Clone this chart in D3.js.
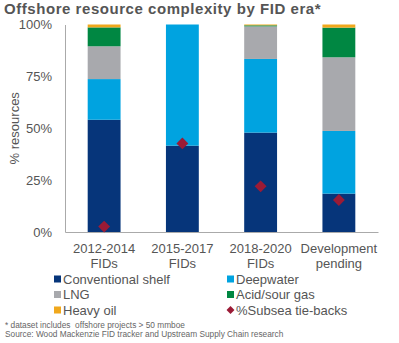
<!DOCTYPE html>
<html>
<head>
<meta charset="utf-8">
<script src="https://cdn.jsdelivr.net/npm/d3@7"></script>
<style>
  body { margin: 0; background: #fff; }
  svg { display: block; font-family: "Liberation Sans", Arial, sans-serif; }
</style>
</head>
<body>
<div id="chart"></div>
<script>
// FID eras and resource mix (% of resources)
const eras = [["2012-2014", "FIDs"], ["2015-2017", "FIDs"], ["2018-2020", "FIDs"], ["Development", "pending"]]
const conventionalShelf = [54.1, 41.6, 47.9, 18.5]
const deepwater = [19.6, 58.4, 35.5, 30.2]
const lng = [15.8, 0, 15.7, 35.5]
const acidSourGas = [9.1, 0, 0.5, 14.3]
const heavyOil = [1.4, 0, 0.4, 1.5]
const subseaTiebacks = [2.6, 42.7, 22.0, 15.4]
const yTicks = [0, 25, 50, 75, 100]

const seriesNames = ['Conventional shelf', 'Deepwater', 'LNG', 'Acid/sour gas', 'Heavy oil']
const seriesValues = [conventionalShelf, deepwater, lng, acidSourGas, heavyOil]
const colors = ['#06357a', '#00a3e0', '#a8a9ad', '#008742', '#f0a81c']
const markerColor = '#9b1b36'
const textColor = '#555'

const w = 399, h = 343
const margin = { top: 24.5, left: 65, right: 21, bottom: 111 }

const svg = d3.select('#chart').append('svg')
  .attr('width', w)
  .attr('height', h)

const rows = eras.map((e, i) => {
  const r = { era: e.join(' ') }
  seriesNames.forEach((s, j) => { r[s] = seriesValues[j][i] })
  return r
})

const x = d3.scaleBand()
  .domain(rows.map(d => d.era))
  .range([margin.left, w - margin.right])
  .paddingInner(0.58)
  .paddingOuter(0.29)

const y = d3.scaleLinear()
  .domain([0, 100])
  .range([h - margin.bottom, margin.top])

const stacked = d3.stack().keys(seriesNames)(rows)

svg.append('text')
  .attr('x', 4)
  .attr('y', 14)
  .attr('fill', textColor)
  .style('font-size', '15px')
  .style('font-weight', 'bold')
  .style('letter-spacing', '0.55px')
  .text('Offshore resource complexity by FID era*')

// stacked bars
svg.append('g')
  .selectAll('g')
  .data(stacked)
  .join('g')
    .attr('fill', (d, i) => colors[i])
  .selectAll('rect')
  .data(d => d)
  .join('rect')
    .attr('x', d => x(d.data.era))
    .attr('y', d => y(d[1]))
    .attr('width', x.bandwidth())
    .attr('height', d => y(d[0]) - y(d[1]))

// axes
const yAxis = svg.append('g')
  .attr('transform', `translate(${margin.left},0)`)
  .call(d3.axisLeft(y).tickValues(yTicks).tickSize(0).tickPadding(13).tickFormat(d => d + '%'))
yAxis.select('.domain').attr('stroke', '#aaa')
yAxis.selectAll('text').attr('fill', textColor).style('font-size', '13px')

const xAxis = svg.append('g')
  .attr('transform', `translate(0,${y(0)})`)
  .call(d3.axisBottom(x).tickSize(0).tickFormat(''))
xAxis.select('.domain').attr('stroke', '#aaa')

svg.append('g')
  .selectAll('text')
  .data(eras)
  .join('text')
    .attr('x', (d, i) => x(rows[i].era) + x.bandwidth() / 2)
    .attr('y', 253)
    .attr('text-anchor', 'middle')
    .attr('fill', textColor)
    .style('font-size', '13px')
  .selectAll('tspan')
  .data(d => d)
  .join('tspan')
    .attr('x', function () { return this.parentNode.getAttribute('x') })
    .attr('dy', (d, i) => i ? 14.5 : 0)
    .text(d => d)

svg.append('text')
  .attr('transform', `translate(19,${y(50)}) rotate(-90)`)
  .attr('text-anchor', 'middle')
  .attr('fill', textColor)
  .style('font-size', '13px')
  .text('% resources')

// subsea tie-back markers
svg.append('g')
  .selectAll('path')
  .data(subseaTiebacks)
  .join('path')
    .attr('transform', (d, i) => `translate(${x(rows[i].era) + x.bandwidth() / 2},${y(d)})`)
    .attr('d', d3.symbol(d3.symbolDiamond2, 90))
    .attr('fill', markerColor)

// legend
const legendItems = [
  { name: 'Conventional shelf', color: colors[0] },
  { name: 'Deepwater', color: colors[1] },
  { name: 'LNG', color: colors[2] },
  { name: 'Acid/sour gas', color: colors[3] },
  { name: 'Heavy oil', color: colors[4] },
  { name: '%Subsea tie-backs', color: markerColor, marker: true }
]

const legend = svg.append('g')
  .selectAll('g')
  .data(legendItems)
  .join('g')
    .attr('transform', (d, i) => `translate(${i % 2 ? 227 : 54},${279 + Math.floor(i / 2) * 15.5})`)

legend.filter(d => !d.marker).append('rect')
  .attr('x', 0)
  .attr('y', -3.5)
  .attr('width', 7)
  .attr('height', 7)
  .attr('fill', d => d.color)

legend.filter(d => d.marker).append('path')
  .attr('transform', 'translate(3.5,0)')
  .attr('d', d3.symbol(d3.symbolDiamond2, 40))
  .attr('fill', d => d.color)

legend.append('text')
  .attr('x', 9)
  .attr('dy', '0.35em')
  .attr('fill', textColor)
  .style('font-size', '13px')
  .text(d => d.name)

// footnotes
svg.append('g')
  .selectAll('text')
  .data(['* dataset includes  offshore projects > 50 mmboe', 'Source: Wood Mackenzie FID tracker and Upstream Supply Chain research'])
  .join('text')
    .attr('x', 5)
    .attr('y', (d, i) => 327.5 + i * 9)
    .attr('fill', '#666')
    .style('font-size', '8.3px')
    .style('white-space', 'pre')
    .text(d => d)
</script>
</body>
</html>
